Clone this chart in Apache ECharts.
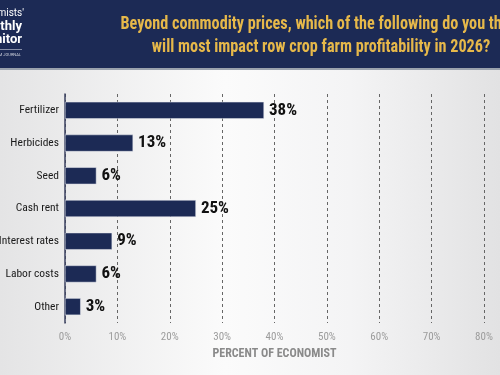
<!DOCTYPE html>
<html>
<head>
<meta charset="utf-8">
<script src="https://cdn.jsdelivr.net/npm/echarts@6/dist/echarts.min.js"></script>
<style>
  html, body { margin: 0; padding: 0; }
  #chart { width: 500px; height: 375px; }
</style>
</head>
<body>
<div id="chart"></div>
<script>
var categories = ['Fertilizer', 'Herbicides', 'Seed', 'Cash rent', 'Interest rates', 'Labor costs', 'Other'];
var percents = [38, 13, 6, 25, 9, 6, 3];
var titleLines = ['Beyond commodity prices, which of the following do you think', 'will most impact row crop farm profitability in 2026?'];

var narrow = '"Roboto Condensed", "Liberation Sans Narrow", Roboto, sans-serif';
var navy = '#1c2a55';

var chart = echarts.init(document.getElementById('chart'));
var option = {
    backgroundColor: {
        type: 'linear', x: 0, y: 0, x2: 1, y2: 0,
        colorStops: [
            { offset: 0, color: '#e4e4e5' },
            { offset: 0.45, color: '#fbfbfb' },
            { offset: 0.7, color: '#f4f4f5' },
            { offset: 1, color: '#e2e2e3' }
        ]
    },
    animation: false,
    graphic: [
        { type: 'rect', left: 0, top: 0, shape: { width: 500, height: 68 }, style: { fill: navy }, z: 0 },
        { type: 'rect', left: 0, top: 68, shape: { width: 500, height: 2 }, style: { fill: '#9aa2ad' }, z: 0 },
        { type: 'text', x: 24, y: 8, style: { text: "Economists'", align: 'right', fill: '#ffffff', font: '10px Roboto' } },
        { type: 'text', x: 22, y: 20, style: { text: 'Monthly', align: 'right', fill: '#ffffff', font: 'bold 13px Roboto' } },
        { type: 'text', x: 22, y: 33, style: { text: 'Monitor', align: 'right', fill: '#ffffff', font: 'bold 13px Roboto' } },
        { type: 'rect', left: 0, top: 49, shape: { width: 22, height: 1 }, style: { fill: '#8890a8' } },
        { type: 'text', x: 21, y: 53, style: { text: 'FARM JOURNAL', align: 'right', fill: '#d0d4de', font: '4px Roboto' } },
        { type: 'text', x: 321, y: 15, scaleX: 0.9, style: { text: titleLines[0], align: 'center', fill: '#e6b84a', font: 'bold 18px ' + narrow } },
        { type: 'text', x: 321, y: 38, scaleX: 0.9, style: { text: titleLines[1], align: 'center', fill: '#e6b84a', font: 'bold 18px ' + narrow } }
    ],
    grid: { left: 65, right: 16, top: 94, bottom: 52, outerBoundsMode: 'none' },
    xAxis: {
        type: 'value',
        min: 0,
        max: 80,
        interval: 10,
        name: 'PERCENT OF ECONOMIST',
        nameLocation: 'middle',
        nameGap: 25,
        nameTextStyle: { color: '#8a8a8a', fontFamily: narrow, fontSize: 12, fontWeight: 'bold' },
        axisLine: { show: false },
        axisTick: { show: false },
        axisLabel: { formatter: '{value}%', color: '#9c9c9c', fontFamily: narrow, fontSize: 11, margin: 9 },
        splitLine: { show: true, lineStyle: { color: '#666', type: [3, 3], width: 1 } }
    },
    yAxis: {
        type: 'category',
        data: categories,
        inverse: true,
        axisLine: { show: true, lineStyle: { color: '#3a4060', width: 1.5 } },
        axisTick: { show: false },
        axisLabel: { color: '#1a1a1a', fontFamily: narrow, fontSize: 11.5, margin: 6 }
    },
    series: [{
        type: 'bar',
        data: percents,
        barWidth: 17,
        itemStyle: { color: navy, borderColor: '#e8eaf0', borderWidth: 0.5 },
        label: {
            show: true,
            position: 'right',
            distance: 5,
            formatter: '{c}%',
            color: '#111',
            fontFamily: narrow,
            fontWeight: 'bold',
            fontSize: 17
        }
    }]
};
chart.setOption(option);
</script>
</body>
</html>
